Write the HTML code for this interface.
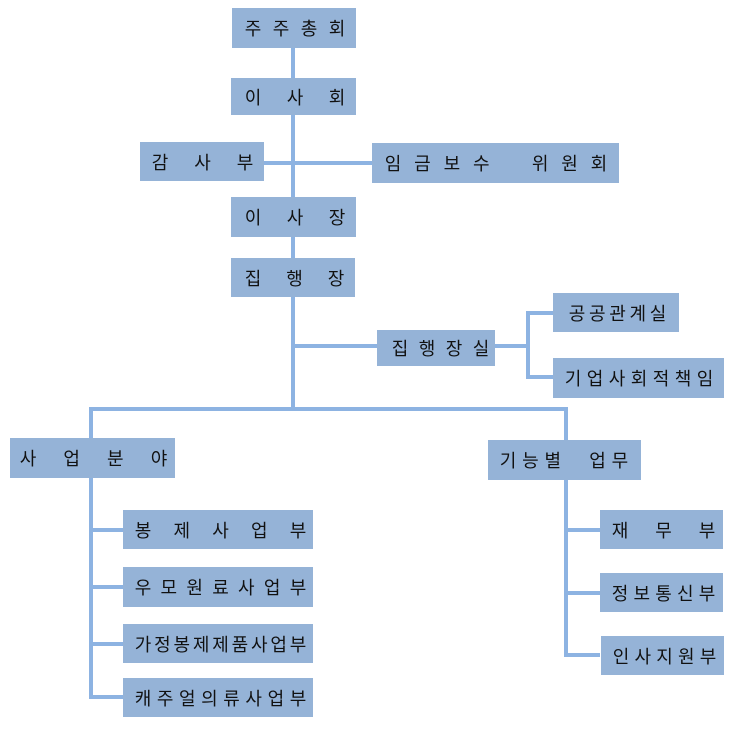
<!DOCTYPE html>
<html><head><meta charset="utf-8">
<style>
body{margin:0;width:756px;height:735px;background:#fff;position:relative;overflow:hidden;font-family:"Liberation Sans","Noto Sans CJK KR",sans-serif;}
.b{position:absolute;background:#95B3D7;display:flex;justify-content:space-between;align-items:center;box-sizing:border-box;font-size:18px;color:#111;}
.b span{display:block;width:18px;text-align:center;}
.l{position:absolute;background:#8DB3E2;}
</style></head><body>
<div class="l" style="left:291px;top:48px;width:4px;height:363px"></div>
<div class="l" style="left:264px;top:161px;width:108px;height:4px"></div>
<div class="l" style="left:293px;top:344px;width:84px;height:4px"></div>
<div class="l" style="left:495px;top:344px;width:33px;height:4px"></div>
<div class="l" style="left:526px;top:311px;width:4px;height:68px"></div>
<div class="l" style="left:526px;top:311px;width:27px;height:4px"></div>
<div class="l" style="left:526px;top:375px;width:27px;height:4px"></div>
<div class="l" style="left:89px;top:407px;width:479px;height:4px"></div>
<div class="l" style="left:89px;top:407px;width:4px;height:31px"></div>
<div class="l" style="left:564px;top:407px;width:4px;height:33px"></div>
<div class="l" style="left:89px;top:478px;width:4px;height:221px"></div>
<div class="l" style="left:89px;top:528px;width:34px;height:4px"></div>
<div class="l" style="left:89px;top:585px;width:34px;height:4px"></div>
<div class="l" style="left:89px;top:642px;width:34px;height:4px"></div>
<div class="l" style="left:89px;top:695px;width:34px;height:4px"></div>
<div class="l" style="left:564px;top:480px;width:4px;height:177px"></div>
<div class="l" style="left:564px;top:528px;width:36px;height:4px"></div>
<div class="l" style="left:564px;top:591px;width:36px;height:4px"></div>
<div class="l" style="left:564px;top:653px;width:36px;height:4px"></div>
<div class="b" style="left:232px;top:8px;width:124px;height:40px;padding:0 10px 0 12px"><span>주</span><span>주</span><span>총</span><span>회</span></div>
<div class="b" style="left:231px;top:78px;width:125px;height:37px;padding:0 10px 0 13px"><span>이</span><span>사</span><span>회</span></div>
<div class="b" style="left:140px;top:142px;width:124px;height:39px;padding:0 10px 0 11px"><span>감</span><span>사</span><span>부</span></div>
<div class="b" style="left:372px;top:143px;width:247px;height:40px;padding:0 11px 0 12px"><span>임</span><span>금</span><span>보</span><span>수</span><span></span><span>위</span><span>원</span><span>회</span></div>
<div class="b" style="left:231px;top:197px;width:125px;height:40px;padding:0 10px 0 13px"><span>이</span><span>사</span><span>장</span></div>
<div class="b" style="left:231px;top:258px;width:124px;height:39px;padding:0 10px 0 13px"><span>집</span><span>행</span><span>장</span></div>
<div class="b" style="left:377px;top:330px;width:118px;height:36px;padding:0 5px 0 14px"><span>집</span><span>행</span><span>장</span><span>실</span></div>
<div class="b" style="left:553px;top:293px;width:126px;height:39px;padding:0 12px 0 15px"><span>공</span><span>공</span><span>관</span><span>계</span><span>실</span></div>
<div class="b" style="left:553px;top:358px;width:171px;height:40px;padding:0 10px 0 11px"><span>기</span><span>업</span><span>사</span><span>회</span><span>적</span><span>책</span><span>임</span></div>
<div class="b" style="left:10px;top:438px;width:165px;height:40px;padding:0 7px 0 9px"><span>사</span><span>업</span><span>분</span><span>야</span></div>
<div class="b" style="left:488px;top:440px;width:153px;height:40px;padding:0 12px 0 11px"><span>기</span><span>능</span><span>별</span><span></span><span>업</span><span>무</span></div>
<div class="b" style="left:123px;top:510px;width:190px;height:39px;padding:0 6px 0 11px"><span>봉</span><span>제</span><span>사</span><span>업</span><span>부</span></div>
<div class="b" style="left:123px;top:567px;width:190px;height:40px;padding:0 6px 0 11px"><span>우</span><span>모</span><span>원</span><span>료</span><span>사</span><span>업</span><span>부</span></div>
<div class="b" style="left:123px;top:624px;width:190px;height:39px;padding:0 6px 0 11px"><span>가</span><span>정</span><span>봉</span><span>제</span><span>제</span><span>품</span><span>사</span><span>업</span><span>부</span></div>
<div class="b" style="left:123px;top:678px;width:190px;height:39px;padding:0 6px 0 11px"><span>캐</span><span>주</span><span>얼</span><span>의</span><span>류</span><span>사</span><span>업</span><span>부</span></div>
<div class="b" style="left:600px;top:510px;width:123px;height:39px;padding:0 7px 0 11px"><span>재</span><span>무</span><span>부</span></div>
<div class="b" style="left:600px;top:573px;width:123px;height:39px;padding:0 7px 0 11px"><span>정</span><span>보</span><span>통</span><span>신</span><span>부</span></div>
<div class="b" style="left:601px;top:636px;width:123px;height:39px;padding:0 7px 0 11px"><span>인</span><span>사</span><span>지</span><span>원</span><span>부</span></div>
</body></html>
